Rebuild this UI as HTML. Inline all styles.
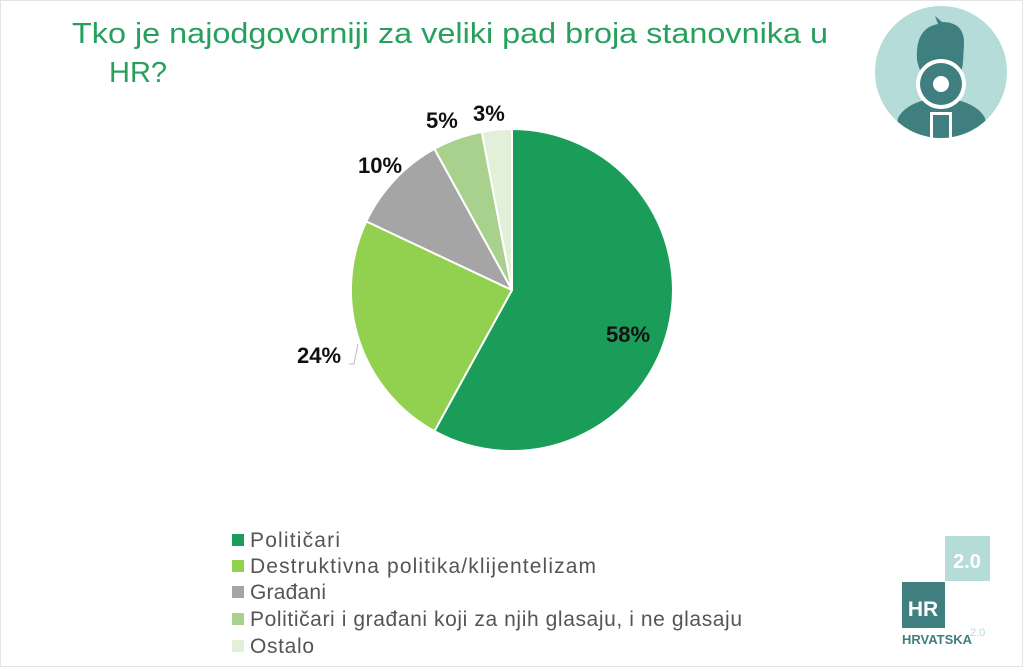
<!DOCTYPE html>
<html><head><meta charset="utf-8"><style>
html,body{margin:0;padding:0;background:#fff}
svg{display:block}
</style></head><body>
<svg width="1024" height="668" viewBox="0 0 1024 668" xmlns="http://www.w3.org/2000/svg" font-family="Liberation Sans, sans-serif">
<rect x="0.5" y="0.5" width="1022" height="666" fill="#fff" stroke="#e4e4e4"/>
<text x="450" y="43" font-size="29" fill="#27a05e" text-anchor="middle" textLength="756" lengthAdjust="spacingAndGlyphs">Tko je najodgovorniji za veliki pad broja stanovnika u</text>
<text x="109" y="82" font-size="29" fill="#27a05e">HR?</text>
<g stroke="#fff" stroke-width="2" stroke-linejoin="round">
<path d="M512,290 L512,129 A161,161 0 1 1 434.4,431.1 Z" fill="#1b9d5a"/>
<path d="M512,290 L434.4,431.1 A161,161 0 0 1 366.3,221.4 Z" fill="#92d050"/>
<path d="M512,290 L366.3,221.4 A161,161 0 0 1 434.4,148.9 Z" fill="#a6a5a6"/>
<path d="M512,290 L434.4,148.9 A161,161 0 0 1 481.8,131.9 Z" fill="#a9d18e"/>
<path d="M512,290 L481.8,131.9 A161,161 0 0 1 512,129 Z" fill="#e2efd9"/>
</g>
<polyline points="349,364 354,364 358,344" fill="none" stroke="#bbb" stroke-width="1"/>
<g font-size="22" font-weight="bold" fill="#111">
<text x="606" y="342">58%</text>
<text x="297" y="363">24%</text>
<text x="358" y="173">10%</text>
<text x="426" y="128">5%</text>
<text x="473" y="121">3%</text>
</g>
<g font-size="21" fill="#555">
<rect x="232" y="534" width="12" height="12" fill="#1b9d5a"/><text x="250" y="547" textLength="90">Političari</text>
<rect x="232" y="560" width="12" height="12" fill="#92d050"/><text x="250" y="573" textLength="346">Destruktivna politika/klijentelizam</text>
<rect x="232" y="586" width="12" height="12" fill="#a6a5a6"/><text x="250" y="599" textLength="76">Građani</text>
<rect x="232" y="613" width="12" height="12" fill="#a9d18e"/><text x="250" y="626" textLength="492">Političari i građani koji za njih glasaju, i ne glasaju</text>
<rect x="232" y="640" width="12" height="12" fill="#e2efd9"/><text x="250" y="653" textLength="64">Ostalo</text>
</g>
<circle cx="941" cy="72" r="66" fill="#b5dcd8"/>
<clipPath id="c"><circle cx="941" cy="72" r="66"/></clipPath>
<g clip-path="url(#c)" fill="#3f7f7f">
<path d="M917,60 Q915,28 938,24 L935,16 L942,22 Q965,22 964,45 L963,62 Q962,75 955,82 L928,82 Q920,75 917,60Z"/>
<path d="M895,138 L898,118 Q905,105 925,100 L957,100 Q978,105 985,118 L988,138Z"/>
<circle cx="941" cy="84" r="25" fill="#fff"/>
<circle cx="941" cy="84" r="21"/>
<circle cx="941" cy="84" r="8" fill="#fff"/>
<rect x="930" y="112" width="22" height="26" fill="#fff"/>
<rect x="933" y="115" width="16" height="23"/>
</g>
<rect x="945" y="536" width="45" height="45" fill="#b5dcd8"/>
<text x="967" y="568" font-size="20" font-weight="bold" fill="#fff" text-anchor="middle">2.0</text>
<rect x="902" y="582" width="43" height="46" fill="#3f7f7f"/>
<text x="923" y="616" font-size="21" font-weight="bold" fill="#fff" text-anchor="middle">HR</text>
<text x="902" y="644" font-size="13" font-weight="bold" fill="#3f7f7f">HRVATSKA</text>
<text x="970" y="636" font-size="11" fill="#b5dcd8">2.0</text>
</svg>
</body></html>
